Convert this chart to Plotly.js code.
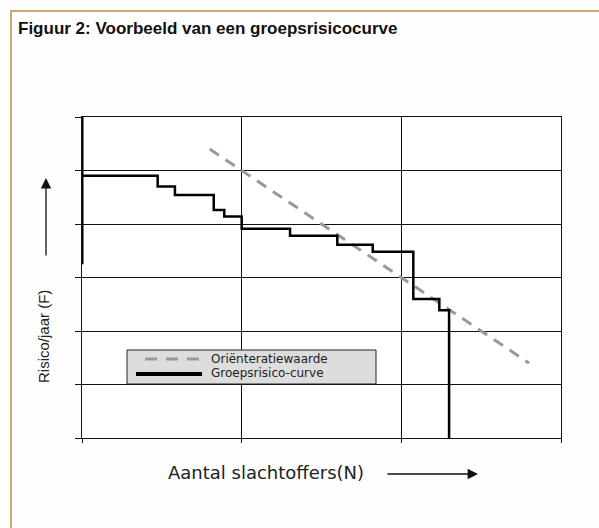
<!DOCTYPE html>
<html>
<head>
<meta charset="utf-8">
<script src="https://cdn.plot.ly/plotly-3.0.1.min.js"></script>
<style>
  html, body { margin: 0; padding: 0; background: #ffffff; }
  #wrap { position: relative; width: 599px; height: 528px; overflow: hidden; }
  #chart { position: absolute; left: 0; top: 0; width: 599px; height: 528px; }
  #frame { position: absolute; left: 10px; top: 10px; width: 600px; height: 530px;
           border-left: 2px solid #c6ab6c; border-top: 2px solid #c6ab6c; pointer-events: none; }
</style>
</head>
<body>
<div id="wrap">
  <div id="chart"></div>
  <div id="frame"></div>
</div>
<script>
// Oriëntatiewaarde (dashed guide line), in axis units (log decades)
const orientN = [0.8, 2.8];
const orientF = [5.4, 1.4];

// Groepsrisico-curve step points (N, F) in axis units
const curveN = [0, 0.474, 0.582, 0.825, 0.891, 1.0, 1.303, 1.599, 1.821, 2.075, 2.238, 2.299];
const curveF = [4.9, 4.7, 4.54, 4.26, 4.14, 3.91, 3.78, 3.61, 3.48, 2.6, 2.39, 0];

// Thick vertical part of the curve at N = 0
const startN = [0, 0];
const startF = [3.25, 6];

const legendNames = ['Oriënteratiewaarde', 'Groepsrisico-curve'];
const titleText = 'Figuur 2: Voorbeeld van een groepsrisicocurve';
const yTitle = 'Risico/jaar (F)';
const xTitle = 'Aantal slachtoffers(N)';

const dashStyle = { color: '#999999', width: 3, dash: '11px,8px' };
const curveColor = '#000000';

const traces = [
  { x: orientN, y: orientF, type: 'scatter', mode: 'lines', name: legendNames[0],
    line: dashStyle },
  { x: curveN, y: curveF, type: 'scatter', mode: 'lines', name: legendNames[1],
    line: { color: curveColor, width: 2.5, shape: 'hv' } },
  { x: startN, y: startF, type: 'scatter', mode: 'lines', showlegend: false,
    line: { color: curveColor, width: 3 } }
];

const L = 82, R = 561, T = 117, B = 438, W = 599, H = 528;
const px = v => (v - L) / (R - L);
const py = v => (B - v) / (B - T);

const legendFont = { family: 'DejaVu Sans, Verdana, sans-serif', size: 12, color: '#222222' };

const layout = {
  width: W, height: H,
  margin: { l: L, r: W - R, t: T, b: H - B, pad: 0 },
  paper_bgcolor: '#fefefe',
  plot_bgcolor: '#ffffff',
  title: { text: titleText, xref: 'container', yref: 'container',
           x: 18 / W, xanchor: 'left', y: 1 - 28 / H, yanchor: 'middle',
           font: { family: 'Liberation Sans, Arial, sans-serif', size: 17, color: '#111111', weight: 'bold' } },
  xaxis: { range: [0, 3], dtick: 1, tick0: 0, showticklabels: false,
           showgrid: true, gridcolor: '#111111', gridwidth: 1, zeroline: false,
           showline: true, linecolor: '#111111', linewidth: 1, mirror: true,
           ticks: 'outside', ticklen: 4, tickcolor: '#111111', fixedrange: true },
  yaxis: { range: [0, 6], dtick: 1, tick0: 0, showticklabels: false,
           showgrid: true, gridcolor: '#111111', gridwidth: 1, zeroline: false,
           showline: true, linecolor: '#111111', linewidth: 1, mirror: true,
           ticks: 'outside', ticklen: 6, tickcolor: '#111111', fixedrange: true },
  showlegend: false,
  shapes: [
    { type: 'rect', xref: 'paper', yref: 'paper', x0: px(127), x1: px(376), y0: py(384), y1: py(350),
      fillcolor: '#dddddd', line: { color: '#222222', width: 1 }, layer: 'above' },
    { type: 'line', xref: 'paper', yref: 'paper', x0: px(145), x1: px(201), y0: py(359), y1: py(359),
      line: { color: dashStyle.color, width: 3, dash: '12px,9px' }, layer: 'above' },
    { type: 'line', xref: 'paper', yref: 'paper', x0: px(136), x1: px(202), y0: py(374), y1: py(374),
      line: { color: curveColor, width: 4 }, layer: 'above' }
  ],
  annotations: [
    { xref: 'paper', yref: 'paper', x: px(209), y: py(359), text: legendNames[0], showarrow: false,
      xanchor: 'left', yanchor: 'middle', font: legendFont },
    { xref: 'paper', yref: 'paper', x: px(209), y: py(373), text: legendNames[1], showarrow: false,
      xanchor: 'left', yanchor: 'middle', font: legendFont },
    { xref: 'paper', yref: 'paper', x: px(43), y: py(337), text: yTitle, showarrow: false,
      textangle: -90, xanchor: 'center', yanchor: 'middle',
      font: { family: 'Liberation Sans, Arial, sans-serif', size: 15, color: '#222222' } },
    { xref: 'paper', yref: 'paper', x: px(166), y: py(473), text: xTitle, showarrow: false,
      xanchor: 'left', yanchor: 'middle',
      font: { family: 'DejaVu Sans, sans-serif', size: 18, color: '#222222' } },
    { xref: 'paper', yref: 'paper', x: px(46), y: py(178), text: '', showarrow: true,
      ax: 0, ay: 79, arrowhead: 2, arrowsize: 1.6, arrowwidth: 1.3, arrowcolor: '#111111' },
    { xref: 'paper', yref: 'paper', x: px(478), y: py(474), text: '', showarrow: true,
      ax: -92, ay: 0, arrowhead: 2, arrowsize: 1.6, arrowwidth: 1.3, arrowcolor: '#111111' }
  ]
};

Plotly.newPlot('chart', traces, layout, { staticPlot: true, displayModeBar: false });
</script>
</body>
</html>
